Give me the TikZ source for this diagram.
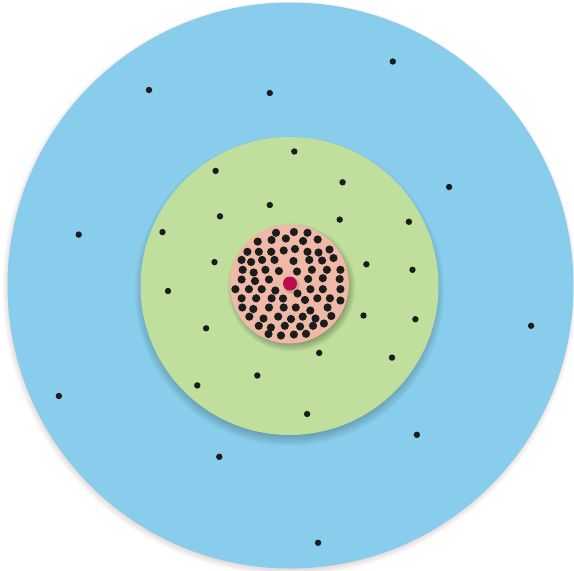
\documentclass[tikz,border=0pt]{standalone}
\definecolor{skyblue}{HTML}{88CDEB}
\definecolor{leafgreen}{HTML}{C0DF9D}
\definecolor{salmon}{HTML}{EEB9A6}
\definecolor{crimson}{HTML}{BE0A50}
\definecolor{dotblack}{HTML}{1C1C1C}
\definecolor{shade}{RGB}{110,70,60}
\begin{document}
\begin{tikzpicture}[x=1pt,y=-1pt,
  smalldot/.style={fill=dotblack},
  coredot/.style={fill=dotblack},
  softshadow/.style={fill=shade,opacity=0.045}]
\useasboundingbox (0,0) rectangle (574,571);
% outer (blue) disc with soft shadow
\foreach \r in {278,279.5,...,288} \fill[softshadow] (289.5,288) circle (\r pt);
\fill[skyblue] (290.5,285.5) circle (283pt);
% blue-zone particles
\foreach \p in {(392.8,61.5),(149,90),(269.8,93),(449.1,187),(78.7,234.6),
  (531.1,325.8),(58.9,396),(416.9,434.8),(219.3,456.8),(318.1,542.8)}
  \fill[smalldot] \p circle (3.2pt);
% middle (green) disc with soft shadow
\foreach \r in {144,145.5,...,155} \fill[fill=black,opacity=0.03] (289.5,291) circle (\r pt);
\fill[leafgreen] (289.5,286) circle (149pt);
% green-zone particles
\foreach \p in {(294.3,151.5),(215.6,170.9),(342.6,182.3),(269.8,205),(220,216.3),
  (339.7,219.6),(408.9,221.8),(162.5,232.1),(214.5,262.1),(366.4,264.3),
  (412.5,269.8),(168,291),(206.1,328.3),(363.5,315.5),(415.4,319.2),
  (319.2,352.9),(392,357.6),(257.3,375.5),(197.3,385.4),(307.1,414)}
  \fill[smalldot] \p circle (3.2pt);
% inner (pink) disc with soft shadow
\foreach \r in {56,57,...,64} \fill[fill=black,opacity=0.035] (291.5,287.5) circle (\r pt);
\fill[salmon] (289.3,284) circle (59.5pt);
% core particles
\foreach \p in {
  (276,232.8),(293.9,232),(307.5,232.8),
  (257.7,241.6),(271.6,240),(285.9,238.5),(303.1,241),(317.7,239.5),
  (247.4,251.8),(258.8,251.8),(271.2,251.8),(283.7,250.5),(295,249),(307.5,251.8),(318.5,252.5),(329.5,249.5),
  (241.6,259.9),(251.1,262),(262.1,259.9),(274.5,259.9),(293.5,261),(309.3,259.9),(322.1,260.5),(333.5,258),
  (242.7,269.8),(253.7,272.5),(265.4,269.8),(278.9,271),(297,271.5),(311.9,269.8),(326.9,269.8),(340.4,269.8),
  (241.6,279.5),(255,281),(269,279.5),(308.2,279),(322.8,278.2),(339.7,279),
  (235.4,289.2),(248.9,289.2),(261.7,289.2),(275.3,290.5),(310.4,289.2),(322.8,289.2),(340.4,289.2),
  (241.6,298.3),(256.2,298.3),(271.6,298.3),(283,298.5),(297.5,293.5),(305,300),(317.3,298.3),(329.9,298.3),(340.4,300.5),
  (242.3,307.5),(253.3,309),(269,307.5),(283.7,307.5),(295.8,307.5),(310.3,310.5),(327.6,307.5),
  (249.3,316.6),(263.5,318.5),(278.2,316.6),(291,319),(302.7,316.6),(315.5,318.5),(331.3,316),
  (258.8,325.8),(270.9,327.5),(284.8,325.8),(300.1,326.5),(313,325.8),(323.9,323.5),
  (281,335.5),(293.9,334.5),(306,333.8),(268.5,334)}
  \fill[coredot] \p circle (4.1pt);
% central particle
\fill[fill=black,opacity=0.12] (291.5,285.5) circle (8pt);
\fill[crimson] (290,283.5) circle (7pt);
\end{tikzpicture}
\end{document}
